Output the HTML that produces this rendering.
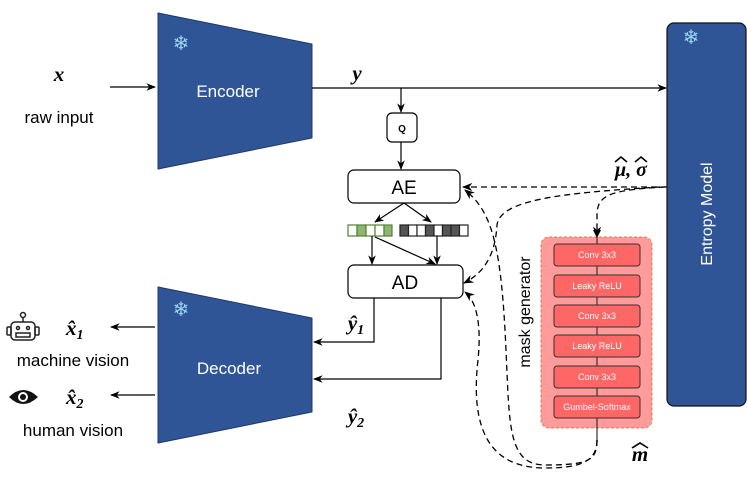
<!DOCTYPE html>
<html><head><style>
body{margin:0;background:#fff;}
svg{display:block;font-family:"Liberation Sans",sans-serif;}
.m{font-family:"Liberation Serif",serif;font-weight:bold;font-style:italic;}
</style></head><body>
<svg width="747" height="480" viewBox="0 0 747 480" xmlns="http://www.w3.org/2000/svg">
<defs>
<marker id="a" viewBox="0 0 10 10" refX="9" refY="5" markerWidth="8" markerHeight="8" orient="auto"><path d="M0,1 L10,5 L0,9 L3,5z" fill="#000"/></marker>
</defs>
<polygon points="158,13 312,44 312,138 158,169" fill="#2f5597" stroke="#1f3864" stroke-width="1"/>
<text x="228" y="97" fill="#fff" font-size="17" text-anchor="middle">Encoder</text>
<text x="181" y="50" fill="#9dd3f5" font-size="20" text-anchor="middle">❄</text>
<polygon points="158,287 312,318 312,412 158,443" fill="#2f5597" stroke="#1f3864" stroke-width="1"/>
<text x="229" y="374" fill="#fff" font-size="17" text-anchor="middle">Decoder</text>
<text x="181" y="316" fill="#9dd3f5" font-size="20" text-anchor="middle">❄</text>
<rect x="667" y="23" width="79" height="383" rx="7" fill="#2f5597" stroke="#111" stroke-width="1.2"/>
<text x="691" y="44" fill="#9dd3f5" font-size="20" text-anchor="middle">❄</text>
<text transform="translate(712,214) rotate(-90)" fill="#fff" font-size="16" text-anchor="middle">Entropy Model</text>
<text x="59" y="81" class="m" font-size="21" text-anchor="middle">x</text>
<text x="59" y="123" font-size="17" text-anchor="middle">raw input</text>
<line x1="110" y1="87" x2="155" y2="87" stroke="#000" stroke-width="1.2" marker-end="url(#a)"/>
<line x1="312" y1="88" x2="666" y2="88" stroke="#000" stroke-width="1.2" marker-end="url(#a)"/>
<text x="357" y="80" class="m" font-size="21" text-anchor="middle">y</text>
<line x1="401" y1="88" x2="401" y2="112" stroke="#000" stroke-width="1.2" marker-end="url(#a)"/>
<rect x="387" y="113" width="30" height="29" rx="5" fill="#fff" stroke="#000" stroke-width="1.2"/>
<text x="402" y="132" font-size="10" font-weight="bold" text-anchor="middle">Q</text>
<line x1="401" y1="142" x2="401" y2="169" stroke="#000" stroke-width="1.2" marker-end="url(#a)"/>
<rect x="348" y="170" width="112" height="33" rx="6" fill="#fff" stroke="#000" stroke-width="1.2"/>
<text x="404" y="194" font-size="19" text-anchor="middle">AE</text>
<line x1="404" y1="203" x2="375" y2="222" stroke="#000" stroke-width="1.2" marker-end="url(#a)"/>
<line x1="404" y1="203" x2="431" y2="222" stroke="#000" stroke-width="1.2" marker-end="url(#a)"/>
<g stroke="#548235" stroke-width="1.2">
<rect x="348" y="225" width="9" height="11" fill="#fff"/><rect x="357" y="225" width="9" height="11" fill="#8fb573"/><rect x="366" y="225" width="9" height="11" fill="#fff"/><rect x="375" y="225" width="9" height="11" fill="#fff"/><rect x="384" y="225" width="8" height="11" fill="#8fb573"/>
</g>
<g stroke="#222" stroke-width="1.2">
<rect x="400" y="225" width="8.5" height="11" fill="#555"/><rect x="408.5" y="225" width="8.5" height="11" fill="#fff"/><rect x="417" y="225" width="8.5" height="11" fill="#fff"/><rect x="425.5" y="225" width="8.5" height="11" fill="#555"/><rect x="434" y="225" width="8.5" height="11" fill="#fff"/><rect x="442.5" y="225" width="8.5" height="11" fill="#555"/><rect x="451" y="225" width="8.5" height="11" fill="#555"/><rect x="459.5" y="225" width="8.5" height="11" fill="#fff"/>
</g>
<line x1="372" y1="236" x2="372" y2="264" stroke="#000" stroke-width="1.2" marker-end="url(#a)"/>
<line x1="375" y1="237" x2="435" y2="264" stroke="#000" stroke-width="1.2" marker-end="url(#a)"/>
<line x1="437" y1="236" x2="437" y2="264" stroke="#000" stroke-width="1.2" marker-end="url(#a)"/>
<rect x="348" y="265" width="115" height="33" rx="6" fill="#fff" stroke="#000" stroke-width="1.2"/>
<text x="405" y="289" font-size="19" text-anchor="middle">AD</text>
<polyline points="374,298 374,342 314,342" fill="none" stroke="#000" stroke-width="1.2" marker-end="url(#a)"/>
<polyline points="441,298 441,379 314,379" fill="none" stroke="#000" stroke-width="1.2" marker-end="url(#a)"/>
<text x="356" y="330" class="m" font-size="21" text-anchor="middle">ŷ<tspan font-size="14" dy="4">1</tspan></text>
<text x="356" y="423" class="m" font-size="21" text-anchor="middle">ŷ<tspan font-size="14" dy="4">2</tspan></text>
<line x1="155" y1="327" x2="111" y2="327" stroke="#000" stroke-width="1.2" marker-end="url(#a)"/>
<line x1="155" y1="395" x2="111" y2="395" stroke="#000" stroke-width="1.2" marker-end="url(#a)"/>
<text x="66" y="335" class="m" font-size="21">x̂<tspan font-size="14" dy="4">1</tspan></text>
<text x="66" y="404" class="m" font-size="21">x̂<tspan font-size="14" dy="4">2</tspan></text>
<text x="73" y="366" font-size="17" text-anchor="middle">machine vision</text>
<text x="73" y="436" font-size="17" text-anchor="middle">human vision</text>
<g stroke="#222" stroke-width="1.5" fill="none">
<circle cx="23" cy="315" r="2.5"/><line x1="23" y1="318" x2="23" y2="322"/>
<rect x="11" y="322" width="24" height="18" rx="4"/>
<rect x="7" y="327" width="4" height="8" rx="1"/><rect x="35" y="327" width="4" height="8" rx="1"/>
<circle cx="18" cy="328" r="1.5"/><circle cx="28" cy="328" r="1.5"/>
<rect x="16" y="333" width="14" height="4"/>
</g>
<path d="M9,397 Q23,383 38,397 Q23,411 9,397z" fill="#111"/>
<circle cx="23" cy="397" r="5" fill="#fff"/><circle cx="23" cy="397" r="3" fill="#111"/>
<rect x="541" y="237" width="111" height="191" rx="8" fill="#ff9b9b" stroke="#e07b50" stroke-width="1" stroke-dasharray="3,2"/>
<line x1="597" y1="237" x2="597" y2="442" stroke="#333" stroke-width="1.2"/>
<g fill="#ff6666" stroke="#333" stroke-width="1">
<rect x="554" y="244" width="86" height="22" rx="3"/><rect x="554" y="275" width="86" height="22" rx="3"/><rect x="554" y="305" width="86" height="22" rx="3"/><rect x="554" y="335" width="86" height="22" rx="3"/><rect x="554" y="366" width="86" height="22" rx="3"/><rect x="554" y="396" width="86" height="22" rx="3"/>
</g>
<g fill="#fff" font-size="9" text-anchor="middle">
<text x="597" y="258">Conv 3x3</text><text x="597" y="289">Leaky ReLU</text><text x="597" y="319">Conv 3x3</text><text x="597" y="349">Leaky ReLU</text><text x="597" y="380">Conv 3x3</text><text x="597" y="410">Gumbel-Softmax</text>
</g>
<text transform="translate(530,312) rotate(-90)" font-size="16" text-anchor="middle">mask generator</text>
<text x="640" y="461" class="m" font-size="21" text-anchor="middle">m</text>
<polyline points="632,448 640,443 648,448" fill="none" stroke="#000" stroke-width="1.6"/>
<text x="631" y="176" class="m" font-size="20" text-anchor="middle">μ, σ</text>
<polyline points="615,162 621,157 627,162" fill="none" stroke="#000" stroke-width="1.6"/>
<polyline points="635,162 641,157 647,162" fill="none" stroke="#000" stroke-width="1.6"/>
<g fill="none" stroke="#000" stroke-width="1.3" stroke-dasharray="6,4">
<line x1="667" y1="187" x2="463" y2="187" marker-end="url(#a)"/>
<path d="M665,187 C610,190 597,195 597,215 L597,236" marker-end="url(#a)"/>
<path d="M660,187 C560,193 500,200 497,225 C495,260 480,275 464,283" marker-end="url(#a)"/>
<path d="M597,440 C597,460 590,465 545,465 C505,465 510,420 505,330 C500,240 490,210 465,190" marker-end="url(#a)"/>
<path d="M597,440 C597,462 580,468 545,468 C490,468 470,430 478,360 C482,320 475,300 465,292" marker-end="url(#a)"/>
</g>
<polygon points="593,230 601,230 597,238" fill="#000"/>
</svg>
</body></html>
